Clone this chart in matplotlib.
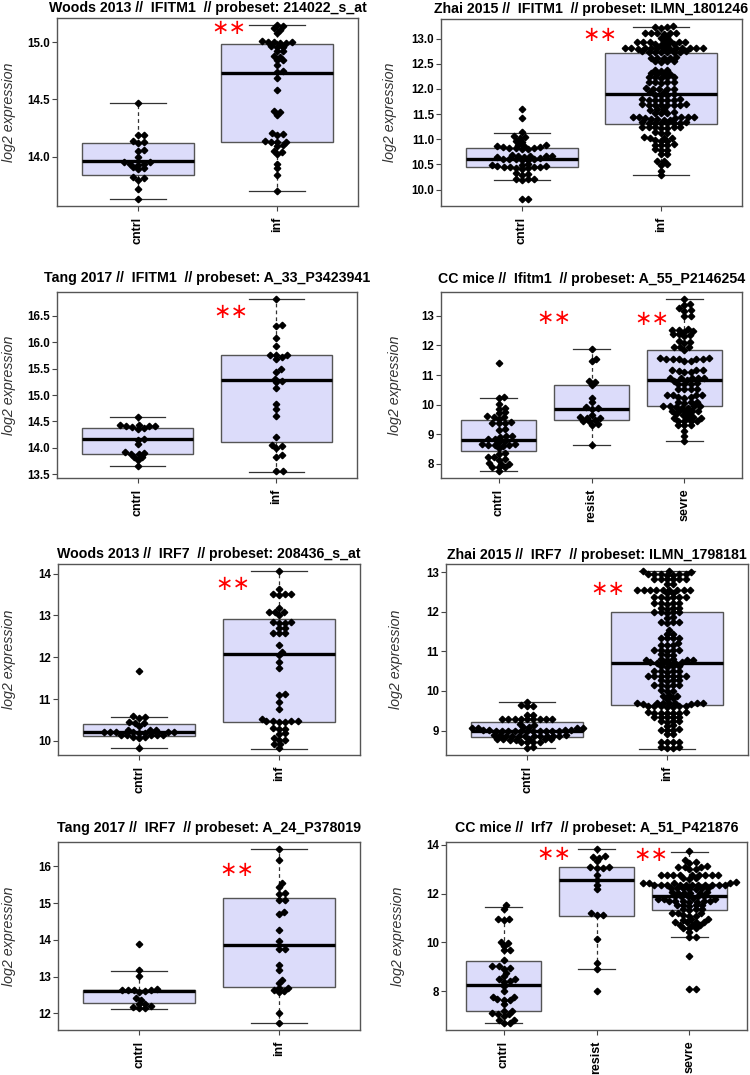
import numpy as np
import matplotlib.pyplot as plt

plt.rcParams['font.family'] = ['Liberation Sans', 'DejaVu Sans']

# ---------------- data ----------------
# Woods 2013 IFITM1
woods_ifitm1_cntrl = [14.47, 14.19, 14.19, 14.14, 14.13, 14.12, 14.06, 14.05, 14.00, 13.95, 13.95,
                      13.94, 13.94, 13.93, 13.91, 13.90, 13.89, 13.82, 13.81, 13.80, 13.72, 13.63]
woods_ifitm1_inf = [15.15, 15.14, 15.12, 15.11, 15.08, 15.01, 15.00, 15.00, 15.00, 14.99, 14.99,
                    14.97, 14.96, 14.96, 14.92, 14.92, 14.88, 14.87, 14.84, 14.84, 14.80, 14.75,
                    14.74, 14.69, 14.58, 14.40, 14.39, 14.36, 14.21, 14.20, 14.19, 14.14, 14.13,
                    14.13, 14.13, 14.10, 14.09, 14.05, 14.04, 14.02, 13.94, 13.90, 13.84, 13.70]
woods_ifitm1_box = [(13.63, 13.84, 13.96, 14.12, 14.47), (13.70, 14.13, 14.73, 14.98, 15.15)]

# Zhai 2015 IFITM1
zhai_ifitm1_cntrl = [11.60, 11.42, 11.14, 11.06, 11.05, 11.02, 10.96, 10.95,
                     10.89, 10.88, 10.87, 10.86, 10.85, 10.84, 10.83, 10.82, 10.82, 10.81, 10.80,
                     10.68, 10.67, 10.67, 10.66, 10.66, 10.65, 10.64,
                     10.62, 10.61, 10.61, 10.60, 10.60, 10.59, 10.58,
                     10.50, 10.49, 10.48, 10.47, 10.46, 10.45, 10.45, 10.44, 10.44, 10.43,
                     10.42, 10.40, 10.32, 10.30, 10.29, 10.21, 10.20, 10.20, 10.19, 9.82, 9.81]
zhai_ifitm1_inf = [13.25, 13.23, 13.22, 13.21,
                   13.11, 13.10, 13.10, 13.09, 13.10, 13.11, 13.03, 13.02,
                   12.95, 12.94, 12.94, 12.93, 12.94, 12.95, 12.93, 12.89, 12.89, 12.88, 12.88,
                   12.82, 12.81, 12.81, 12.80, 12.81, 12.82, 12.80, 12.81, 12.81, 12.82, 12.80, 12.81, 12.81,
                   12.75, 12.74, 12.74, 12.73, 12.74, 12.75, 12.74, 12.73,
                   12.63, 12.62, 12.62, 12.61, 12.62, 12.56, 12.55, 12.55, 12.54,
                   12.38, 12.37, 12.36, 12.31, 12.30, 12.30, 12.29,
                   12.24, 12.23, 12.23, 12.22, 12.23, 12.14, 12.13, 12.13, 12.12, 12.13,
                   12.01, 12.00, 12.00, 11.99, 12.00, 11.94, 11.93, 11.89, 11.88, 11.88, 11.87,
                   11.79, 11.78, 11.78, 11.77, 11.78, 11.79, 11.77,
                   11.69, 11.68, 11.68, 11.67, 11.68, 11.69, 11.67, 11.68,
                   11.60, 11.59, 11.58, 11.54, 11.53, 11.53, 11.52,
                   11.45, 11.44, 11.44, 11.43, 11.44, 11.45, 11.43, 11.40, 11.40, 11.39, 11.39,
                   11.34, 11.33, 11.33, 11.32, 11.33, 11.34, 11.32, 11.33,
                   11.25, 11.24, 11.24, 11.23, 11.24, 11.25, 11.23, 11.14, 11.13, 11.12,
                   11.04, 11.03, 11.03, 11.02, 10.98, 10.97, 10.96, 10.90, 10.89, 10.89, 10.88,
                   10.80, 10.79, 10.78, 10.71, 10.70, 10.57, 10.56, 10.50, 10.49, 10.37, 10.28]
zhai_ifitm1_box = [(10.19, 10.44, 10.60, 10.82, 11.12), (10.28, 11.30, 11.89, 12.72, 13.22)]

# Tang 2017 IFITM1
tang_ifitm1_cntrl = [14.58, 14.43, 14.43, 14.42, 14.41, 14.41, 14.40, 14.37, 14.36, 14.17,
                     14.15, 14.07, 13.92, 13.91, 13.89, 13.88, 13.83, 13.82, 13.77, 13.65]
tang_ifitm1_inf = [16.82, 16.33, 16.30, 16.08, 15.93, 15.76, 15.76, 15.76, 15.72, 15.68, 15.49,
                   15.44, 15.31, 15.27, 15.24, 15.13, 14.83, 14.74, 14.61, 14.21, 14.05, 14.03,
                   14.00, 13.86, 13.83, 13.57, 13.56]
tang_ifitm1_box = [(13.65, 13.89, 14.16, 14.37, 14.58), (13.55, 14.12, 15.28, 15.75, 16.82)]

# CC mice Ifitm1
cc_ifitm1_cntrl = [11.40, 10.27, 10.21, 10.04, 9.89, 9.87, 9.74, 9.72, 9.61, 9.60, 9.59, 9.52,
                   9.40, 9.39, 9.39, 9.38, 9.17, 9.15, 8.94, 8.93, 8.92, 8.86, 8.85, 8.77, 8.75,
                   8.68, 8.66, 8.65, 8.64, 8.63, 8.62, 8.53, 8.37, 8.35, 8.25, 8.23, 8.16, 8.14,
                   8.02, 8.01, 7.99, 7.91, 7.90, 7.89, 7.76]
cc_ifitm1_resist = [11.88, 11.55, 11.46, 10.79, 10.77, 10.66, 10.24, 10.10, 9.91, 9.88, 9.86,
                    9.66, 9.57, 9.56, 9.56, 9.47, 9.46, 9.44, 9.35, 9.32, 8.64]
cc_ifitm1_sevre = [13.57, 13.41, 13.36, 13.25, 13.18, 13.17, 13.00, 12.99, 12.56, 12.52, 12.51,
                   12.47, 12.46, 12.38, 12.37, 12.36, 12.31, 12.15, 12.13, 12.08, 11.96, 11.95,
                   11.94, 11.85, 11.56, 11.55, 11.55, 11.54, 11.55, 11.56, 11.54, 11.49, 11.48,
                   11.17, 11.16, 11.16, 11.15, 11.11, 11.10, 10.91, 10.90, 10.90, 10.89, 10.90,
                   10.82, 10.81, 10.72, 10.71, 10.71, 10.70, 10.54, 10.53, 10.53, 10.52,
                   10.34, 10.33, 10.33, 10.32, 10.26, 10.25, 10.24, 10.09, 10.08, 10.08, 10.07,
                   9.97, 9.96, 9.96, 9.95, 9.91, 9.90, 9.89, 9.80, 9.79, 9.79, 9.78, 9.79,
                   9.68, 9.67, 9.66, 9.57, 9.56, 9.56, 9.55, 9.46, 9.45, 9.45, 9.44,
                   9.32, 9.31, 9.30, 9.12, 8.93, 8.79]
cc_ifitm1_box = [(7.76, 8.45, 8.81, 9.49, 10.24), (8.64, 9.50, 9.87, 10.65, 11.89),
                 (8.79, 9.96, 10.84, 11.83, 13.57)]

# Woods 2013 IRF7
woods_irf7_cntrl = [11.66, 10.59, 10.58, 10.55, 10.44, 10.43, 10.42, 10.36, 10.26, 10.25, 10.25,
                    10.21, 10.20, 10.20, 10.20, 10.19, 10.20, 10.21, 10.19, 10.14, 10.14, 10.13,
                    10.14, 10.13, 10.10, 10.09, 10.06, 9.84]
woods_irf7_inf = [14.06, 13.63, 13.51, 13.50, 13.50, 13.49, 13.18, 13.09, 13.08, 13.09, 13.02,
                  12.83, 12.82, 12.83, 12.82, 12.71, 12.70, 12.58, 12.57, 12.58, 12.28, 12.13,
                  12.05, 11.88, 11.74, 11.11, 11.10, 10.94, 10.76, 10.53, 10.47, 10.47, 10.46,
                  10.47, 10.46, 10.47, 10.31, 10.29, 10.28, 10.18, 10.17, 10.06, 10.02, 10.01,
                  9.93, 9.92, 9.83]
woods_irf7_box = [(9.84, 10.12, 10.22, 10.41, 10.57), (9.81, 10.46, 12.07, 12.92, 14.06)]

# Zhai 2015 IRF7
zhai_irf7_cntrl = [9.73, 9.64, 9.63, 9.62, 9.39, 9.38,
                   9.30, 9.29, 9.29, 9.28, 9.29, 9.30, 9.28, 9.29, 9.29, 9.16, 9.15,
                   9.08, 9.07, 9.07, 9.06, 9.07, 9.08,
                   9.01, 9.00, 9.00, 8.99, 9.00, 9.01, 8.99, 9.00, 9.00, 9.01, 8.99, 9.00, 9.00,
                   9.01, 8.99,
                   8.88, 8.87, 8.87, 8.86, 8.87, 8.88, 8.86, 8.87, 8.87, 8.88, 8.86, 8.87,
                   8.79, 8.78, 8.78, 8.77, 8.78, 8.79, 8.77, 8.72, 8.71, 8.71, 8.70, 8.58, 8.57]
zhai_irf7_inf = [13.03, 13.02, 13.01, 12.96, 12.95, 12.95, 12.94, 12.95, 12.96, 12.94,
                 12.84, 12.83, 12.83, 12.82, 12.83, 12.84, 12.71, 12.70,
                 12.56, 12.55, 12.55, 12.54, 12.55, 12.56, 12.54, 12.55, 12.55, 12.48, 12.47,
                 12.38, 12.37, 12.37, 12.36, 12.37, 12.38, 12.23, 12.22, 12.22, 12.21, 12.22,
                 12.10, 12.09, 12.09, 12.08, 12.00, 11.99, 11.99, 11.98, 11.99, 11.86, 11.85,
                 11.75, 11.74, 11.74, 11.73, 11.53, 11.45, 11.44, 11.35, 11.34, 11.34, 11.33,
                 11.22, 11.17, 11.16, 11.15, 11.04, 11.03, 11.03, 11.02, 11.03, 10.93, 10.92, 10.91,
                 10.80, 10.79, 10.79, 10.78, 10.79, 10.80, 10.72, 10.71, 10.71, 10.70, 10.71, 10.72,
                 10.63, 10.62, 10.62, 10.61, 10.51, 10.50, 10.50, 10.49, 10.50,
                 10.39, 10.38, 10.38, 10.37, 10.38, 10.39, 10.37, 10.28, 10.27, 10.27, 10.26,
                 10.15, 10.14, 10.14, 10.13, 10.14, 10.02, 10.01, 10.00, 9.89, 9.88, 9.87, 9.81, 9.80,
                 9.70, 9.69, 9.69, 9.68, 9.69, 9.70, 9.68, 9.69, 9.69,
                 9.62, 9.61, 9.61, 9.60, 9.61, 9.62, 9.60, 9.46, 9.45, 9.45, 9.44, 9.45, 9.46, 9.44,
                 9.35, 9.34, 9.34, 9.33, 9.34, 9.24, 9.23, 9.23, 9.22, 9.13, 9.12,
                 9.03, 9.02, 9.02, 9.01, 8.91, 8.90, 8.72, 8.71, 8.71, 8.70, 8.59, 8.58, 8.57, 8.56]
zhai_irf7_box = [(8.57, 8.84, 9.00, 9.22, 9.71), (8.54, 9.65, 10.71, 11.99, 13.02)]

# Tang 2017 IRF7
tang_irf7_cntrl = [13.88, 13.17, 13.03, 12.66, 12.65, 12.65, 12.65, 12.64, 12.62, 12.57, 12.43,
                   12.36, 12.27, 12.26, 12.20, 12.17, 12.16, 12.15]
tang_irf7_inf = [16.47, 16.18, 15.54, 15.45, 15.26, 15.25, 15.08, 15.07, 14.76, 14.71, 14.27,
                 13.97, 13.75, 13.74, 13.31, 13.19, 12.91, 12.82, 12.70, 12.70, 12.63, 12.62,
                 12.57, 12.02, 11.74]
tang_irf7_box = [(12.13, 12.29, 12.62, 12.65, 13.16), (11.74, 12.73, 13.85, 15.14, 16.48)]

# CC mice Irf7
cc_irf7_cntrl = [11.52, 11.38, 10.97, 10.96, 10.90, 10.00, 9.97, 9.86, 9.70, 9.69, 9.28, 9.03,
                 9.02, 8.94, 8.92, 8.76, 8.62, 8.51, 8.50, 8.41, 8.40, 8.21, 8.03, 7.79, 7.78,
                 7.68, 7.67, 7.66, 7.49, 7.21, 7.20, 7.10, 7.09, 7.08, 7.00, 6.83, 6.82, 6.72, 6.71]
cc_irf7_resist = [13.82, 13.52, 13.51, 13.45, 13.31, 13.10, 13.09, 13.06, 13.05, 12.76, 12.55,
                  12.34, 12.18, 11.21, 11.13, 11.12, 10.14, 9.17, 8.90, 8.03]
cc_irf7_sevre = [13.72, 13.38, 13.27, 13.26, 13.10, 13.09, 13.11, 13.10, 13.00, 12.99,
                 12.77, 12.76, 12.76, 12.75, 12.76, 12.77, 12.75, 12.76, 12.76,
                 12.63, 12.62, 12.61, 12.46, 12.45, 12.45, 12.44, 12.45,
                 12.36, 12.35, 12.35, 12.34, 12.35, 12.36, 12.34, 12.35, 12.35, 12.36, 12.34,
                 12.22, 12.21, 12.21, 12.20, 12.21, 12.22, 12.20,
                 12.05, 12.04, 12.04, 12.03, 12.04, 12.05, 11.91, 11.90, 11.90, 11.89, 11.90,
                 11.80, 11.79, 11.79, 11.78, 11.69, 11.68, 11.68, 11.67, 11.68, 11.69, 11.67,
                 11.53, 11.52, 11.52, 11.51, 11.52, 11.36, 11.35, 11.35, 11.34,
                 11.22, 11.21, 11.20, 11.11, 11.10, 11.09, 10.95, 10.94, 10.93,
                 10.84, 10.83, 10.83, 10.82, 10.73, 10.72, 10.71, 10.60, 10.59, 10.58,
                 10.41, 10.23, 10.22, 9.45, 8.11, 8.10]
cc_irf7_box = [(6.72, 7.21, 8.28, 9.24, 11.45), (8.90, 11.09, 12.57, 13.09, 13.82),
               (10.23, 11.34, 11.90, 12.39, 13.70)]

two_groups = ['cntrl', 'inf']
three_groups = ['cntrl', 'resist', 'sevre']

panels = [
    dict(title='Woods 2013 //  IFITM1  // probeset: 214022_s_at', groups=two_groups,
         values=[woods_ifitm1_cntrl, woods_ifitm1_inf], box=woods_ifitm1_box,
         yticks=[14.0, 14.5, 15.0], star_x=[1.65], star_y=[15.12]),
    dict(title='Zhai 2015 //  IFITM1  // probeset: ILMN_1801246', groups=two_groups,
         values=[zhai_ifitm1_cntrl, zhai_ifitm1_inf], box=zhai_ifitm1_box,
         yticks=[10.0, 10.5, 11.0, 11.5, 12.0, 12.5, 13.0], star_x=[1.56], star_y=[13.07]),
    dict(title='Tang 2017 //  IFITM1  // probeset: A_33_P3423941', groups=two_groups,
         values=[tang_ifitm1_cntrl, tang_ifitm1_inf], box=tang_ifitm1_box,
         yticks=[13.5, 14.0, 14.5, 15.0, 15.5, 16.0, 16.5], star_x=[1.67], star_y=[16.58]),
    dict(title='CC mice //  Ifitm1  // probeset: A_55_P2146254', groups=three_groups,
         values=[cc_ifitm1_cntrl, cc_ifitm1_resist, cc_ifitm1_sevre], box=cc_ifitm1_box,
         yticks=[8, 9, 10, 11, 12, 13], star_x=[1.60, 2.65], star_y=[12.94, 12.89]),
    dict(title='Woods 2013 //  IRF7  // probeset: 208436_s_at', groups=two_groups,
         values=[woods_irf7_cntrl, woods_irf7_inf], box=woods_irf7_box,
         yticks=[10, 11, 12, 13, 14], star_x=[1.67], star_y=[13.75]),
    dict(title='Zhai 2015 //  IRF7  // probeset: ILMN_1798181', groups=two_groups,
         values=[zhai_irf7_cntrl, zhai_irf7_inf], box=zhai_irf7_box,
         yticks=[9, 10, 11, 12, 13], star_x=[1.58], star_y=[12.57]),
    dict(title='Tang 2017 //  IRF7  // probeset: A_24_P378019', groups=two_groups,
         values=[tang_irf7_cntrl, tang_irf7_inf], box=tang_irf7_box,
         yticks=[12, 13, 14, 15, 16], star_x=[1.70], star_y=[15.89]),
    dict(title='CC mice //  Irf7  // probeset: A_51_P421876', groups=three_groups,
         values=[cc_irf7_cntrl, cc_irf7_resist, cc_irf7_sevre], box=cc_irf7_box,
         yticks=[8, 10, 12, 14], star_x=[1.54, 2.58], star_y=[13.61, 13.59]),
]

# layout in pixels: left, top, right, bottom, title centre y, ylabel centre x
layout = [(57, 18, 358, 206, 8, 9), (441, 19, 742, 206, 9, 390),
          (57, 292, 357, 478, 278, 9), (441, 292, 742, 478, 279, 395),
          (58, 564, 360, 755, 554, 9), (446, 564, 748, 755, 555, 396),
          (58, 842, 360, 1030, 828, 9), (446, 842, 747, 1030, 828, 398)]

W, H = 750, 1075
DOT_X, DOT_Y = 6.3, 3.8  # swarm spacing in pixels (horizontal, vertical)


def swarm(ax, vals):
    # simple beeswarm: place points bottom-up at the nearest free x offset (pixels)
    ypx = ax.transData.transform(np.column_stack([np.zeros(len(vals)), vals]))[:, 1]
    ypx = ypx * DOT_X / DOT_Y
    d = DOT_X
    xs = np.zeros(len(vals))
    px, py = [], []
    for i in np.argsort(ypx, kind='stable'):
        y = ypx[i]
        near = [(a, b) for a, b in zip(px, py) if abs(b - y) < d]
        cands = [0.0]
        for a, b in near:
            dx = np.sqrt(d * d - (b - y) ** 2)
            cands += [a + dx, a - dx]
        cands.sort(key=abs)
        for c in cands:
            if all((c - a) ** 2 + (y - b) ** 2 >= d * d - 1e-6 for a, b in near):
                break
        xs[i] = c
        px.append(c)
        py.append(y)
    return xs


fig = plt.figure(figsize=(W / 100, H / 100), dpi=100)
edge = '#555555'

for p, (l, t, r, b, ty, lx) in zip(panels, layout):
    ax = fig.add_axes([l / W, 1 - b / H, (r - l) / W, (b - t) / H])
    n = len(p['groups'])
    pos = np.arange(1, n + 1)
    ax.set_xlim(0.5 - 0.04 * n, n + 0.5 + 0.04 * n)
    allv = np.concatenate([np.asarray(v) for v in p['values']])
    pad = 0.04 * (allv.max() - allv.min())
    ax.set_ylim(allv.min() - pad, allv.max() + pad)

    stats = [dict(whislo=s[0], q1=s[1], med=s[2], q3=s[3], whishi=s[4], fliers=[]) for s in p['box']]
    ax.bxp(stats, positions=pos, widths=0.8, capwidths=0.4, patch_artist=True, showfliers=False,
           boxprops=dict(facecolor='#DCDCFA', edgecolor=edge, linewidth=1.0),
           medianprops=dict(color='black', linewidth=2.4, solid_capstyle='butt'),
           whiskerprops=dict(color='#333333', linewidth=0.9, linestyle=(0, (3, 2.5))),
           capprops=dict(color='#333333', linewidth=0.9))

    xscale = ax.bbox.width / (ax.get_xlim()[1] - ax.get_xlim()[0])
    for x0, v in zip(pos, p['values']):
        offs = swarm(ax, v) / xscale
        ax.plot(x0 + offs, v, ls='none', marker='D', ms=3.3, color='black', mec='black', zorder=5)

    for sx, sy in zip(p['star_x'], p['star_y']):
        ax.text(sx, sy, '\u2217\u2217', color='red', fontsize=15, ha='center', va='center',
                family='DejaVu Sans', zorder=6)

    ax.set_yticks(p['yticks'])
    dec = 1 if any(float(v) != int(v) for v in p['yticks']) else 0
    ax.set_yticklabels([f'{v:.{dec}f}' for v in p['yticks']])
    ax.set_xticks(pos)
    ax.set_xticklabels(p['groups'], rotation=90)
    for lab in ax.get_xticklabels() + ax.get_yticklabels():
        lab.set_fontweight('bold')
    ax.tick_params(axis='both', length=3.5, width=0.8, color='#444444')
    ax.tick_params(axis='y', pad=1.5, labelsize=8.3)
    ax.tick_params(axis='x', pad=4, labelsize=9)
    for s in ax.spines.values():
        s.set_color(edge)
        s.set_linewidth(1.0)

    ax.set_ylabel('log2 expression', fontsize=10.3, style='italic', color='#333333', va='center')
    ax.yaxis.set_label_coords((lx - l) / (r - l), 0.5)
    ax.text(0.5, 1 + (t - ty) / (b - t), p['title'], transform=ax.transAxes, ha='center',
            va='center', fontsize=10.2, fontweight='bold')

fig.savefig('out.png', dpi=100)
